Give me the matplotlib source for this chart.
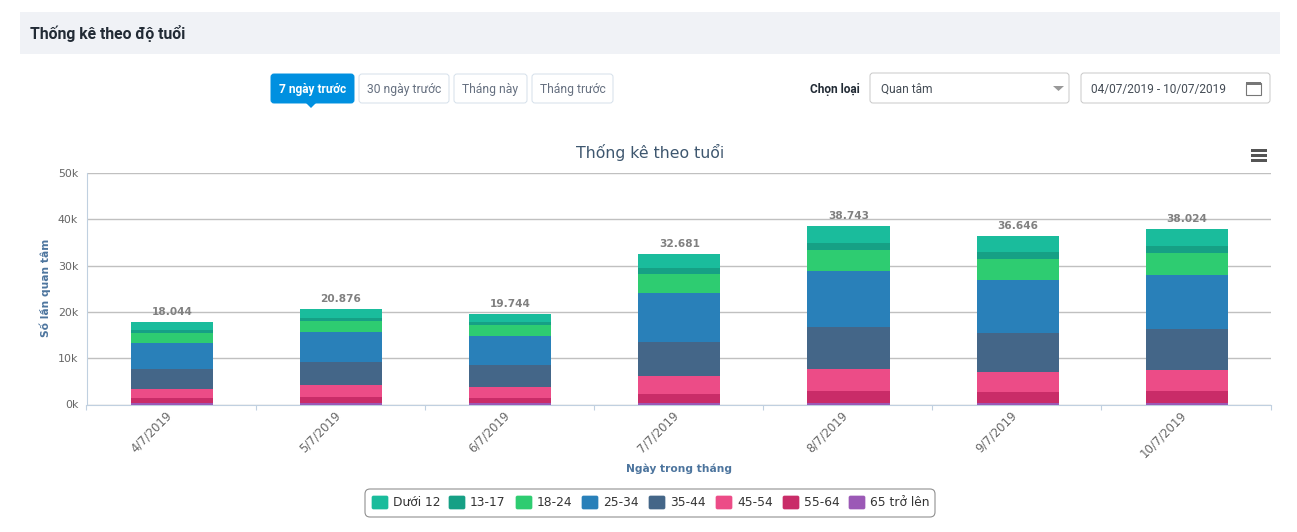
import matplotlib
matplotlib.use('Agg')
import matplotlib.pyplot as plt
import numpy as np
from matplotlib.patches import FancyBboxPatch, Polygon, Rectangle

days = ['4/7/2019', '5/7/2019', '6/7/2019', '7/7/2019', '8/7/2019', '9/7/2019', '10/7/2019']
totals = ['18.044', '20.876', '19.744', '32.681', '38.743', '36.646', '38.024']

# bottom to top in the stack
age_65 = [290, 290, 220, 430, 430, 430, 430]
age_55 = [1080, 1300, 1080, 1730, 2380, 2170, 2380]
age_45 = [1950, 2600, 2380, 3890, 4770, 4330, 4550]
age_35 = [4330, 4980, 4760, 7350, 9100, 8450, 8880]
age_25 = [5630, 6500, 6280, 10590, 12130, 11480, 11700]
age_18 = [2170, 2380, 2380, 4110, 4550, 4550, 4770]
age_13 = [650, 650, 650, 1300, 1520, 1520, 1520]
age_0 = [1730, 1950, 1730, 3030, 3680, 3470, 3680]

series = [age_0, age_13, age_18, age_25, age_35, age_45, age_55, age_65]
names = ['Dưới 12', '13-17', '18-24', '25-34', '35-44', '45-54', '55-64', '65 trở lên']
colors = ['#1abc9c', '#16a085', '#2ecc71', '#2980b9', '#446688', '#ec4c87', '#c92c68', '#9b59b6']

W, H = 1297, 532
fig = plt.figure(figsize=(W / 100, H / 100), dpi=100)

# chart axes
ax = fig.add_axes([86.5 / W, 1 - 404.5 / H, 1184 / W, 231.5 / H])
x = np.arange(len(days))
bar_x = x + 0.005  # the bars sit about a pixel right of the band centre
bottom = np.array([sum(s[i] for s in series) for i in range(len(days))], dtype=float)
for vals, c in zip(series, colors):
    bottom = bottom - np.array(vals)
    ax.bar(bar_x, vals, 0.485, bottom=bottom, color=c, zorder=3)
tops = [sum(s[i] for s in series) for i in range(len(days))]
for i, t in enumerate(totals):
    ax.annotate(t, (bar_x[i], tops[i]), xytext=(0, 3.6), textcoords='offset points', ha='center', va='bottom',
                fontsize=7.6, fontweight='bold', color='#808080', zorder=5)

ax.set_xlim(-0.5, 6.5)
ax.set_ylim(0, 50000)
ax.set_yticks([0, 10000, 20000, 30000, 40000, 50000])
ax.set_yticklabels(['0k', '10k', '20k', '30k', '40k', '50k'], fontsize=7.9, color='#666666')
# labels hang a few pixels left of the band centre
ax.set_xticks(x - 0.036)
ax.set_xticklabels(days, rotation=45, fontsize=8.4, color='#666666', rotation_mode='anchor', ha='right', va='top')
ax.tick_params(axis='x', length=0, pad=3)
ax.tick_params(axis='y', length=0, pad=6)
ax.set_xticks(np.arange(-0.5, 7), minor=True)
ax.tick_params(axis='x', which='minor', length=3.6, color='#c0d0e0', width=0.8)
ax.grid(axis='y', color='#c0c0c0', lw=1, zorder=1)
for s in ['top', 'right']:
    ax.spines[s].set_visible(False)
ax.spines['left'].set_color('#c0d0e0')
ax.spines['bottom'].set_color('#c0d0e0')

# everything around the chart, in pixel coordinates
ov = fig.add_axes([0, 0, 1, 1], zorder=10)
ov.set_xlim(0, W)
ov.set_ylim(H, 0)
ov.axis('off')
ov.patch.set_alpha(0)


def box(x0, y0, x1, y1, fc='white', ec='#d5e0ea', r=3, lw=0.7):
    ov.add_patch(FancyBboxPatch((x0 + r, y0 + r), x1 - x0 - 2 * r, y1 - y0 - 2 * r,
                                boxstyle=f'round,pad={r},rounding_size={r}', fc=fc, ec=ec, lw=lw))


ov.add_patch(Rectangle((20, 12), 1260, 42, fc='#f0f2f6', ec='none'))
ov.text(30, 33, 'Thống kê theo độ tuổi', family='Roboto', fontsize=11.35, fontweight='bold',
        color='#222b35', va='center')

# date range buttons
box(271, 74, 354, 103, fc='#0090e0', ec='#0090e0')
ov.add_patch(Polygon([[306, 103], [316, 103], [311, 108]], fc='#0090e0', ec='none'))
ov.text(312.5, 89, '7 ngày trước', family='Roboto', fontsize=8.6, fontweight='bold', color='white',
        ha='center', va='center')
for x0, x1, lab in [(359, 449, '30 ngày trước'), (454, 527, 'Tháng này'), (532, 613, 'Tháng trước')]:
    box(x0, 74, x1, 103)
    ov.text((x0 + x1) / 2, 89, lab, family='Roboto', fontsize=8.7, color='#667080', ha='center', va='center')

# select and date picker
ov.text(860, 89, 'Chọn loại', family='Roboto', fontsize=8.6, fontweight='bold', color='#222b35',
        ha='right', va='center')
box(870, 73, 1069, 103, ec='#c8c8c8')
ov.text(881, 89, 'Quan tâm', family='Roboto', fontsize=8.6, color='#444c55', va='center')
ov.add_patch(Polygon([[1053, 86], [1064, 86], [1058.5, 91]], fc='#999999', ec='none'))
box(1081, 73, 1270, 103, ec='#c8c8c8')
ov.text(1091, 89, '04/07/2019 - 10/07/2019', family='Roboto', fontsize=8.6, color='#444c55', va='center')
ov.add_patch(Rectangle((1245.5, 82.5), 15, 12, fc='white', ec='#777777', lw=0.8))
ov.add_patch(Rectangle((1245.5, 81.5), 15, 3, fc='#777777', ec='none'))

# chart title, menu icon, axis titles
ov.text(650, 152, 'Thống kê theo tuổi', fontsize=11.3, color='#3e576f', ha='center', va='center')
for y in [150, 155, 160]:
    ov.add_patch(Rectangle((1251, y - 1.5), 16, 3, fc='#555555', ec='none'))
ov.text(45, 288, 'Số lần quan tâm', fontsize=7.7, fontweight='bold', color='#4d759e', rotation=90,
        ha='center', va='center')
ov.text(679, 469, 'Ngày trong tháng', fontsize=7.7, fontweight='bold', color='#4d759e', ha='center', va='center')

# legend
box(365, 489, 935, 517, ec='#909090', r=5, lw=0.8)
lx = [372, 449, 516, 582, 649, 716, 783, 849]
for xp, c, n in zip(lx, colors, names):
    box(xp, 496, xp + 16, 509, fc=c, ec=c, r=1.5, lw=0.5)
    ov.text(xp + 21, 503, n, fontsize=8.8, color='#333333', va='center')

fig.savefig('out.png', dpi=100)
